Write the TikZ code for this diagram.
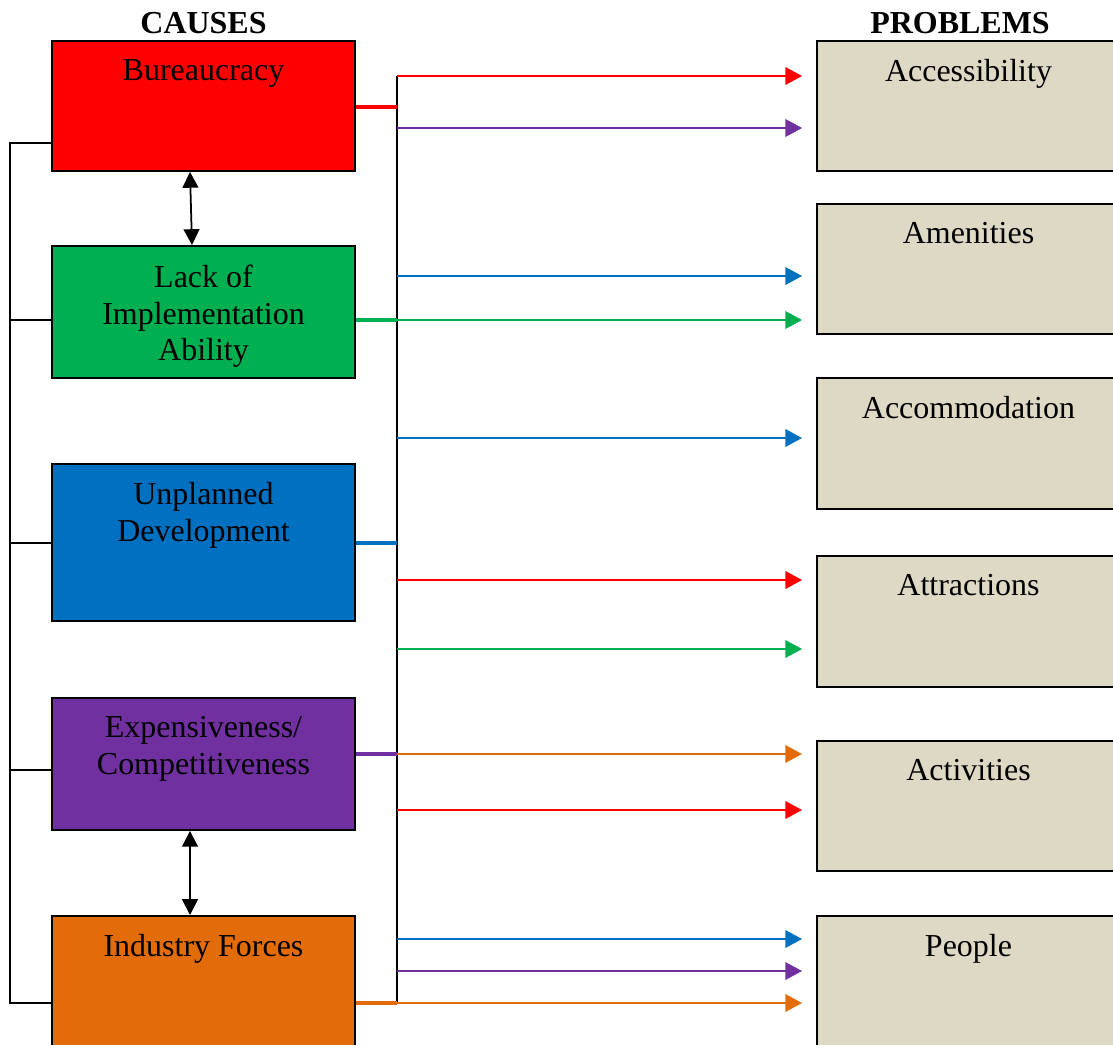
\documentclass[tikz,border=0pt]{standalone}
\usepackage{fontspec}
\setmainfont{Liberation Serif}
\usetikzlibrary{positioning,arrows.meta}
\definecolor{cgreen}{RGB}{0,176,80}
\definecolor{cblue}{RGB}{0,112,192}
\definecolor{cpurple}{RGB}{112,48,160}
\definecolor{corange}{RGB}{227,108,10}
\definecolor{ctan}{RGB}{221,217,196}
\begin{document}
\begin{tikzpicture}[x=0.02cm, y=-0.02cm,
    every node/.style={font=\fontsize{18.2}{21}\selectfont},
    box/.style={draw=black, line width=1.1pt, minimum width=6.06cm, anchor=north, inner sep=0pt},
    txt/.style={anchor=north, align=center, yshift=-8pt, inner sep=3pt},
    head/.style={font=\fontsize{18.2}{21}\selectfont\bfseries},
    arr/.style={line width=1pt, -{Triangle[length=9.5pt, width=10pt]}, shorten >=0.28cm},
    stub/.style={line width=2.2pt},
    dbl/.style={line width=1pt, {Triangle[length=9pt, width=9pt]}-{Triangle[length=9pt, width=9pt]}}]
    \clip (0,0) rectangle (1113,1045);
    % Causes
    \node[box, fill=red, minimum height=2.6cm, label={[txt]north:Bureaucracy}] (bur) at (203.5,40) {};
    \node[box, fill=cgreen, minimum height=2.64cm, label={[txt]north:Lack of\\Implementation\\Ability}] (lia) at (203.5,245) {};
    \node[box, fill=cblue, minimum height=3.14cm, label={[txt]north:Unplanned\\Development}] (und) at (203.5,463) {};
    \node[box, fill=cpurple, minimum height=2.64cm, label={[txt]north:Expensiveness/\\Competitiveness}] (exc) at (203.5,697) {};
    \node[box, fill=corange, minimum height=3.2cm, label={[txt]north:Industry Forces}] (ind) at (203.5,915) {};
    \node[head, above=0pt of bur] (causes) {CAUSES};
    % Problems
    \node[box, fill=ctan, minimum height=2.6cm, label={[txt]north:Accessibility}] (acc) at (968.5,40) {};
    \node[box, fill=ctan, minimum height=2.6cm, label={[txt]north:Amenities}] (ame) at (968.5,203) {};
    \node[box, fill=ctan, minimum height=2.62cm, label={[txt]north:Accommodation}] (acm) at (968.5,377) {};
    \node[box, fill=ctan, minimum height=2.62cm, label={[txt]north:Attractions}] (att) at (968.5,555) {};
    \node[box, fill=ctan, minimum height=2.6cm, label={[txt]north:Activities}] (act) at (968.5,740) {};
    \node[box, fill=ctan, minimum height=3.2cm, label={[txt]north:People}] (ppl) at (968.5,915) {};
    \node[head, above=0pt of acc, xshift=-0.17cm] (problems) {PROBLEMS};
    % Left-hand rail
    \coordinate (rail) at (10,143);
    \draw[line width=1pt] (bur.west |- rail) -- (rail) -- (rail |- 0,1003) -- (ind.west |- 0,1003);
    \foreach \y/\n in {320/lia, 543/und, 770/exc}
        \draw[line width=1pt] (rail |- 0,\y) -- (\n.west |- 0,\y);
    % Double arrows
    \draw[dbl] (bur.south -| 190,0) -- (lia.north -| 192,0);
    \draw[dbl] (exc.south -| 190,0) -- (ind.north -| 190,0);
    % Bus
    \coordinate (bus) at (397,76);
    \draw[line width=1pt] (bus) -- (bus |- 0,1003);
    \foreach \y/\c/\n in {107/red/bur, 320/cgreen/lia, 543/cblue/und, 754/cpurple/exc, 1003/corange/ind}
        \draw[stub, \c] (\n.east |- 0,\y) -- (bus |- 0,\y);
    % Right-hand Arrows
    \foreach \y/\c/\n in {76/red/acc, 128/cpurple/acc, 276/cblue/ame, 320/cgreen/ame, 438/cblue/acm,
        580/red/att, 649/cgreen/att, 754/corange/act, 810/red/act, 939/cblue/ppl, 971/cpurple/ppl, 1003/corange/ppl}
        \draw[arr, \c] (bus |- 0,\y) -- (\n.west |- 0,\y);
\end{tikzpicture}
\end{document}
